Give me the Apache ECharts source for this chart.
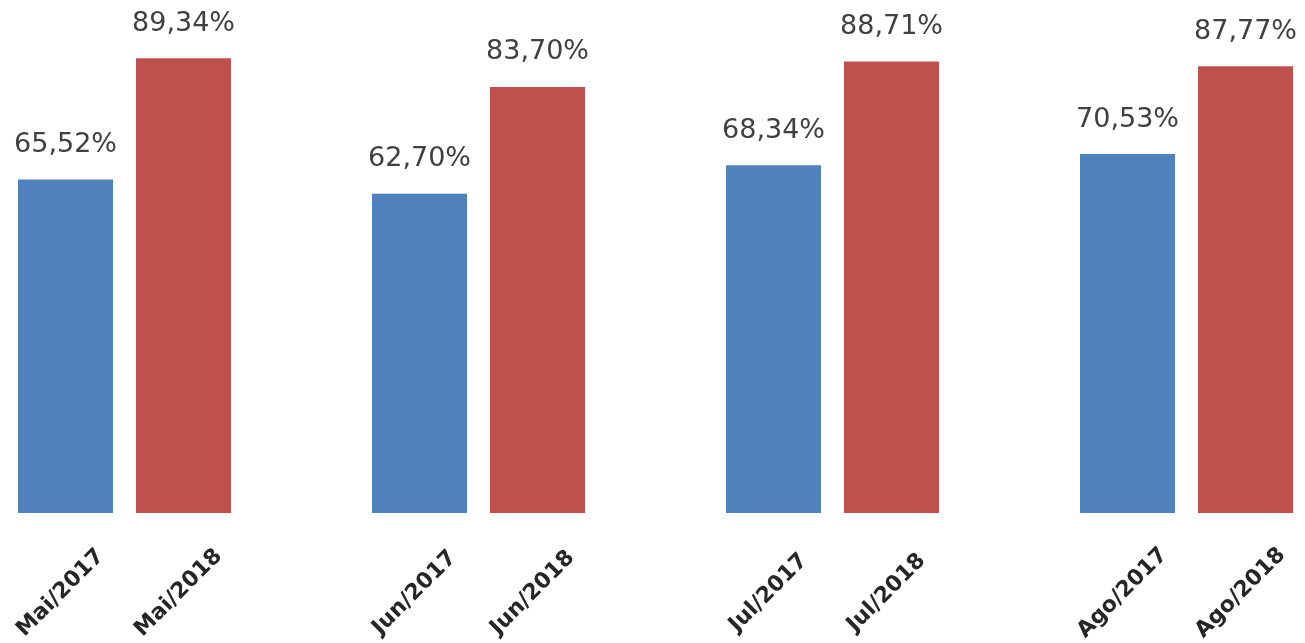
<!DOCTYPE html>
<html>
<head>
<meta charset="utf-8">
<script src="https://cdn.jsdelivr.net/npm/echarts@6/dist/echarts.min.js"></script>
<style>html,body{margin:0;padding:0;background:#fff}#c{width:1305px;height:643px}</style>
</head>
<body>
<div id="c"></div>
<script>
// Categories (empty strings are spacer slots between month pairs)
const categories = ['Mai/2017','Mai/2018','','Jun/2017','Jun/2018','','Jul/2017','Jul/2018','','Ago/2017','Ago/2018'];
const values2017 = [65.52, 62.70, 68.34, 70.53];
const values2018 = [89.34, 83.70, 88.71, 87.77];
const colors = { y2017: '#4F81BD', y2018: '#C0504D' };

const data = [];
for (let i = 0; i < values2017.length; i++) {
  data.push({ value: values2017[i], itemStyle: { color: colors.y2017 } });
  data.push({ value: values2018[i], itemStyle: { color: colors.y2018 } });
  if (i < values2017.length - 1) data.push(null);
}

const chart = echarts.init(document.getElementById('c'));
chart.setOption({
  animation: false,
  grid: { left: 6.5, right: 0.5, top: 4, bottom: 130, containLabel: false, outerBoundsMode: 'none' },
  xAxis: {
    type: 'category',
    data: categories,
    axisLine: { show: false },
    axisTick: { show: false },
    axisLabel: {
      interval: 0,
      rotate: 45,
      align: 'center',
      verticalAlign: 'middle',
      margin: 75,
      padding: [0, 14, 0, 0],
      fontFamily: 'DejaVu Sans',
      fontWeight: 'bold',
      fontSize: 22,
      color: '#262626'
    }
  },
  yAxis: {
    type: 'value',
    min: 0,
    max: 100,
    show: false,
    splitLine: { show: false }
  },
  series: [{
    type: 'bar',
    data: data,
    barWidth: '80.5%',
    label: {
      show: true,
      position: 'top',
      distance: 21,
      fontFamily: 'DejaVu Sans',
      fontSize: 27,
      color: '#404040',
      formatter: p => p.value.toFixed(2).replace('.', ',') + '%'
    }
  }]
});
</script>
</body>
</html>
